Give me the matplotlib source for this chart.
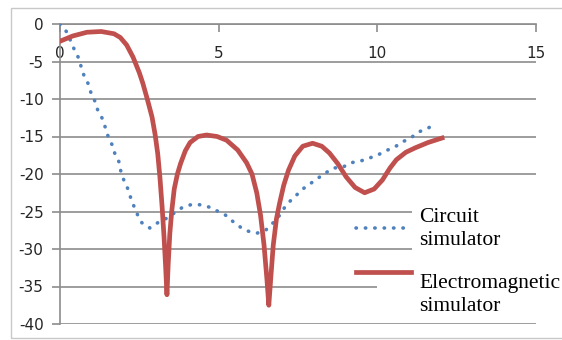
import numpy as np
import matplotlib.pyplot as plt
from matplotlib.patches import Rectangle
from matplotlib.legend_handler import HandlerLine2D

# circuit simulator (blue dotted)
circ_x = [0, 0.22, 0.44, 0.57, 0.66, 0.75, 0.88, 0.97, 1.1, 1.19, 1.32, 1.42, 1.51,
          1.64, 1.73, 1.86, 1.92, 2.01, 2.14, 2.23, 2.33, 2.45, 2.58, 2.83, 3.08,
          3.36, 3.84, 4.12, 4.4, 4.69, 4.94, 5.22, 5.44, 5.69, 5.91, 6.2, 6.48,
          6.67, 6.86, 7.02, 7.18, 7.43, 7.65, 8.35, 8.63, 8.91, 9.16, 9.45, 9.73,
          10.0, 10.27, 10.55, 10.8, 11.05, 11.3, 11.59, 11.84]
circ_y = [0, -1.1, -3.3, -4.4, -5.6, -6.8, -7.9, -9.1, -10.3, -11.5, -12.5, -13.7, -14.9,
          -16.1, -17.3, -18.4, -19.7, -20.8, -22.0, -23.2, -24.3, -25.5, -26.5, -27.2, -26.5,
          -25.9, -24.5, -24.1, -24.1, -24.4, -24.9, -25.5, -26.3, -27.1, -27.6, -27.9, -27.5,
          -26.7, -25.9, -24.8, -23.9, -22.9, -22.0, -19.9, -19.2, -19.1, -18.5, -18.3, -17.9,
          -17.5, -16.9, -16.4, -15.7, -15.2, -14.4, -13.9, -13.3]

# electromagnetic simulator (red solid)
em_x = [0, 0.4, 0.85, 1.3, 1.7, 1.9, 2.1, 2.3, 2.5, 2.61, 2.75, 2.9, 3.0, 3.08, 3.15,
        3.22, 3.28, 3.33, 3.37, 3.41, 3.46, 3.52, 3.6, 3.7, 3.8, 3.95, 4.1, 4.35, 4.62,
        4.95, 5.25, 5.6, 5.88, 6.05, 6.2, 6.32, 6.43, 6.52, 6.58, 6.64, 6.72, 6.82,
        6.92, 7.05, 7.2, 7.4, 7.65, 7.96, 8.25, 8.49, 8.75, 9.02, 9.3, 9.6, 9.9,
        10.16, 10.4, 10.6, 10.9, 11.2, 11.6, 12.04]
em_y = [-2.3, -1.6, -1.1, -1.0, -1.3, -1.8, -2.8, -4.4, -6.5, -7.9, -10.0, -12.4, -14.8,
        -17.3, -20.5, -24.5, -28.5, -32.5, -36.1, -32.0, -28.0, -25.0, -22.0, -20.0, -18.6,
        -16.9, -15.8, -15.0, -14.8, -15.0, -15.5, -16.8, -18.5, -20.0, -22.5, -25.5, -29.5,
        -34.0, -37.5, -34.0, -29.5, -26.0, -23.9, -21.5, -19.5, -17.6, -16.3, -15.9, -16.3,
        -17.2, -18.6, -20.4, -21.8, -22.5, -22.0, -20.8, -19.2, -18.1, -17.1, -16.5, -15.8,
        -15.2]

xticks = [0, 5, 10, 15]
yticks = [0, -5, -10, -15, -20, -25, -30, -35, -40]
labels = ['Circuit\nsimulator', 'Electromagnetic\nsimulator']

grid_c = '#8c8c8c'


class ShiftedLine(HandlerLine2D):
    # legend line drawn higher than the middle of its label
    def __init__(self, dy, **kw):
        super().__init__(**kw)
        self.dy = dy

    def create_artists(self, *args, **kw):
        arts = super().create_artists(*args, **kw)
        for a in arts:
            a.set_ydata(np.asarray(a.get_ydata()) + self.dy)
        return arts


fig = plt.figure(figsize=(5.62, 3.4), dpi=100)
fig.patches.append(Rectangle((11 / 562, 2 / 340), 0.99, 330 / 340, transform=fig.transFigure,
                             fill=False, edgecolor='#c8c8c8', lw=1.0))
ax = fig.add_axes([60 / 562, 16 / 340, 476 / 562, 300 / 340])

ax.set_xlim(0, 15)
ax.set_ylim(-40, 0)
ax.set_xticks(xticks)
ax.set_yticks(yticks)
ax.set_xticklabels([str(v) for v in xticks])
ax.set_yticklabels([str(v) for v in yticks])

ax.set_axisbelow(True)
ax.yaxis.grid(True, color=grid_c, lw=1.2)

for s in ['top', 'right']:
    ax.spines[s].set_visible(False)
ax.spines['bottom'].set_position(('data', 0))
ax.spines['bottom'].set_color(grid_c)
ax.spines['bottom'].set_linewidth(1.2)
ax.spines['left'].set_color(grid_c)
ax.spines['left'].set_linewidth(1.2)
ax.tick_params(axis='both', colors=grid_c, width=1.2, length=5.8, labelsize=11,
               labelcolor='#262626')
ax.tick_params(axis='x', pad=10)
ax.tick_params(axis='y', pad=6)

# white area behind the legend hides part of the gridlines
ax.add_patch(Rectangle((11.1, -33), 4.2, 9.5, facecolor='white', edgecolor='none', zorder=1))
ax.add_patch(Rectangle((10.0, -37.5), 5.3, 4.6, facecolor='white', edgecolor='none', zorder=1))

l1, = ax.plot(circ_x, circ_y, color='#4f81bd', lw=2.6, linestyle=(0, (0.1, 2.5)),
              dash_capstyle='round', label=labels[0], zorder=3)
l2, = ax.plot(em_x, em_y, color='#c0504d', lw=3.4, solid_joinstyle='round',
              label=labels[1], zorder=3)

leg = ax.legend(loc='upper left', bbox_to_anchor=(356 / 562, 1 - 208 / 340),
                bbox_transform=fig.transFigure, frameon=False, borderpad=0,
                borderaxespad=0, handlelength=2.56, handletextpad=0.37,
                labelspacing=1.14, prop={'family': 'Liberation Serif', 'size': 15.5},
                handler_map={l2: ShiftedLine(16.5)})
for t in leg.get_texts():
    t.set_linespacing(1.28)

fig.savefig('out.png', dpi=100)
